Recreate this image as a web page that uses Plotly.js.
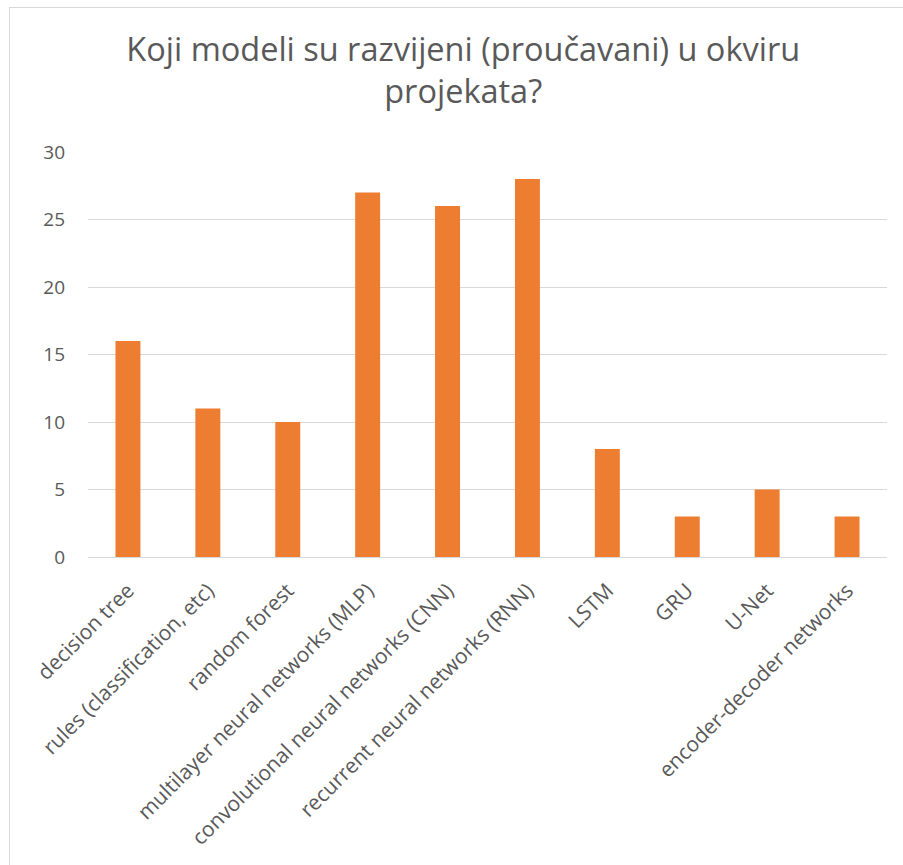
<!DOCTYPE html>
<html>
<head>
<meta charset="utf-8">
<script src="https://cdn.plot.ly/plotly-3.0.1.min.js"></script>
<style>
html,body{margin:0;padding:0;background:#fff;}
#wrap{position:relative;width:903px;height:865px;overflow:hidden;}
#frame{position:absolute;left:9px;top:7px;width:1000px;height:1000px;border:1px solid #d9d9d9;box-sizing:border-box;pointer-events:none;}
#chart{position:absolute;left:0;top:0;width:903px;height:865px;}
</style>
</head>
<body>
<div id="wrap">
<div id="chart"></div>
<div id="frame"></div>
</div>
<script>
const categories = [
  "decision tree",
  "rules (classification, etc)",
  "random forest",
  "multilayer neural networks (MLP)",
  "convolutional neural networks (CNN)",
  "recurrent neural networks (RNN)",
  "LSTM",
  "GRU",
  "U-Net",
  "encoder-decoder networks"
];
const counts = [16, 11, 10, 27, 26, 28, 8, 3, 5, 3];
const yTicks = [0, 5, 10, 15, 20, 25, 30];
const titleText = "Koji modeli su razvijeni (proučavani) u okviru<br>projekata?";

const FONT = "Open Sans, sans-serif";
const data = [{
  type: "bar",
  x: categories,
  y: counts,
  marker: {color: "#ED7D31", line: {width: 0}},
  hoverinfo: "x+y"
}];
const layout = {
  width: 903, height: 865,
  margin: {l: 88, r: 16, t: 152, b: 308, pad: 0},
  paper_bgcolor: "#ffffff",
  plot_bgcolor: "#ffffff",
  bargap: 0.6875,
  showlegend: false,
  font: {family: FONT, color: "#595959", size: 16},
  title: {
    text: titleText,
    font: {family: FONT, size: 32.5, color: "#595959"},
    x: 0.513, xanchor: "center",
    y: 0.93, yanchor: "top", yref: "container"
  },
  xaxis: {
    type: "category",
    tickangle: -45,
    showgrid: false,
    showline: true,
    linecolor: "#d9d9d9",
    linewidth: 1,
    ticks: "",
    ticklabelstandoff: 12,
    tickfont: {family: FONT, size: 21, color: "#595959"},
    automargin: false,
    fixedrange: true
  },
  yaxis: {
    range: [0, 30],
    tickvals: yTicks,
    ticktext: yTicks.map(String),
    showgrid: true,
    gridcolor: "#d9d9d9",
    gridwidth: 1,
    zeroline: false,
    showline: false,
    ticks: "",
    ticklabelstandoff: 22,
    tickfont: {family: FONT, size: 19, color: "#595959"},
    automargin: false,
    fixedrange: true
  }
};
Plotly.newPlot("chart", data, layout, {displayModeBar: false, staticPlot: true});
</script>
</body>
</html>
